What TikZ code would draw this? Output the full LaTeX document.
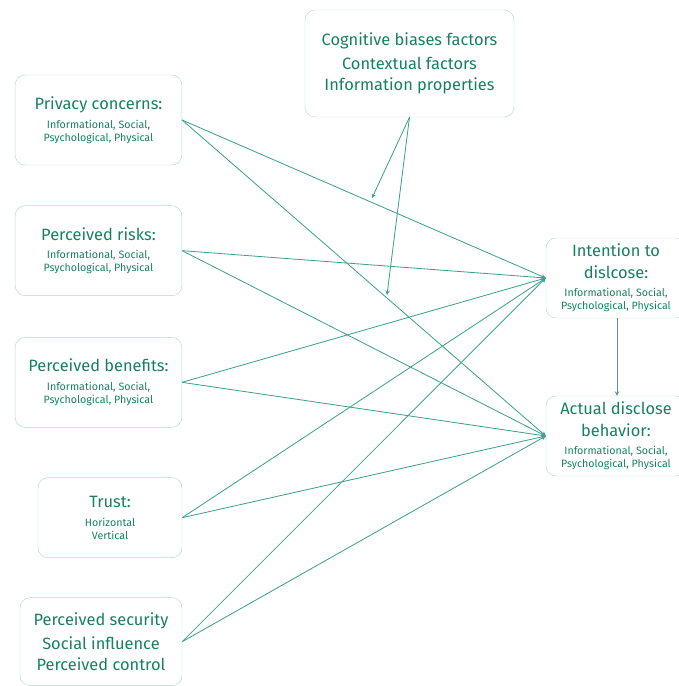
\documentclass[tikz,border=0pt]{standalone}
\usepackage{fontspec}
\setmainfont{Fira Sans}
\usepackage{tikz}
\usetikzlibrary{shapes.geometric, arrows}
\definecolor{textgreen}{RGB}{24,128,98}
\definecolor{boxline}{RGB}{175,220,205}
\definecolor{linegreen}{RGB}{60,160,140}
\definecolor{linkblue}{RGB}{100,140,175}
\newcommand{\headtext}[1]{{\fontsize{14}{17}\selectfont #1}}
\tikzstyle{factor} = [rectangle, rounded corners=0.3cm, minimum width=5cm, minimum height=2.7cm, text centered, align=center, draw=boxline, text=textgreen, font=\fontsize{9.1}{11}\selectfont]
\tikzstyle{outcome} = [factor, minimum width=4.2cm, minimum height=2.4cm]
\tikzstyle{arrow} = [color=linegreen, line width=0.7pt, ->, >=stealth]
\tikzstyle{link} = [color=linkblue, line width=0.7pt, ->, >=stealth]

\begin{document}
\begin{tikzpicture}[node distance=3.95cm]
\useasboundingbox (0,0) rectangle (20.34,-20.58);
\node (privacy) [factor] at (2.955,-3.6) {\headtext{Privacy concerns:}\\[5pt] Informational, Social,\\ Psychological, Physical};
\node (risks) [factor, below of=privacy, yshift=0.03cm] {\headtext{Perceived risks:}\\[5pt] Informational, Social,\\ Psychological, Physical};
\node (benefits) [factor, below of=risks] {\headtext{Perceived benefits:}\\[5pt] Informational, Social,\\ Psychological, Physical};
\node (trust) [factor, below of=benefits, xshift=0.345cm, yshift=-0.11cm, minimum width=4.32cm, minimum height=2.4cm] {\headtext{Trust:}\\[5pt] Horizontal\\ Vertical};
\node (security) [factor, below of=trust, xshift=-0.27cm, yshift=0.23cm, minimum width=4.86cm, minimum height=2.64cm] {\headtext{Perceived security}\\[6pt] \headtext{Social influence}\\[6pt] \headtext{Perceived control}};
\node (cognitive) [factor] at (12.285,-1.905) [minimum width=6.27cm, minimum height=3.21cm] {\headtext{Cognitive biases factors}\\[6pt] \headtext{Contextual factors}\\[6pt] \headtext{Information properties}};
\node (intention) [outcome] at (18.48,-8.34) {\headtext{Intention to}\\[6pt] \headtext{dislcose:}\\[5pt] Informational, Social,\\ Psychological, Physical};
\node (actual) [outcome, below of=intention, yshift=-0.79cm] {\headtext{Actual disclose}\\[6pt] \headtext{behavior:}\\[5pt] Informational, Social,\\ Psychological, Physical};
\coordinate (mod1) at (11.16,-5.94);
\coordinate (mod2) at (11.61,-8.85);

\foreach \src in {privacy,risks,benefits,trust,security} {
  \draw [arrow] (\src.east) -- (intention.west);
  \draw [arrow] (\src.east) -- (actual.west);
}
\draw [arrow] (cognitive.south) -- (mod1);
\draw [arrow] (cognitive.south) -- (mod2);
\draw [link] ([xshift=0.03cm]intention.south) -- ([xshift=0.03cm]actual.north);
\end{tikzpicture}
\end{document}
